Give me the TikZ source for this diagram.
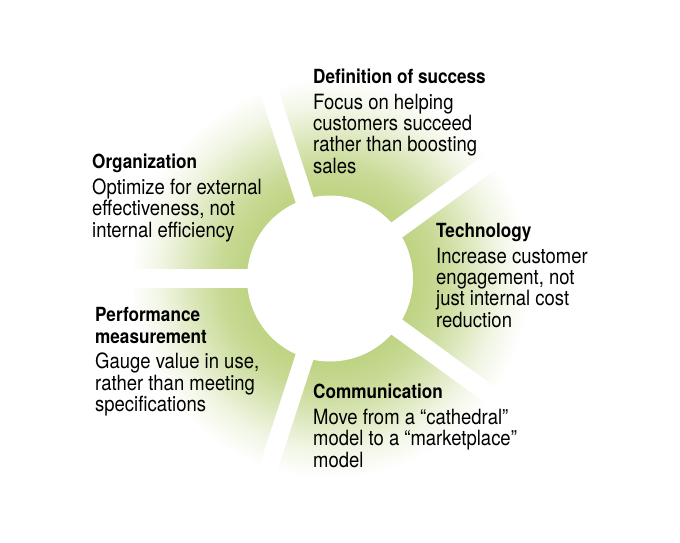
\documentclass[tikz,border=0pt]{standalone}
\usepackage{fontspec}
\setmainfont{TeX Gyre Heros}[FakeStretch=0.88]
\definecolor{wedgegreen}{RGB}{190,211,130}
\pgfdeclareradialshading{wedgefade}{\pgfpoint{0bp}{0bp}}{%
  color(0bp)=(wedgegreen); color(9.4bp)=(wedgegreen); color(12.5bp)=(wedgegreen!85);
  color(15.9bp)=(wedgegreen!55); color(19.3bp)=(wedgegreen!22); color(22.7bp)=(white);
  color(50bp)=(white)}
\newcommand\heading[1]{{\fontsize{19.5}{21.3}\selectfont\bfseries #1}}
\begin{document}
\begin{tikzpicture}[x=1pt,y=-1pt,
    gap/.style={line width=18.5pt,white},
    block/.style={anchor=north west,inner sep=0pt,align=left,
      font=\fontsize{21}{21.3}\selectfont}]
  \useasboundingbox (0,0) rectangle (680,542);
  \coordinate(hub) at (330,278.5);

  % faded ring, cut into five wedges
  \shade[shading=wedgefade] (hub) circle (220pt);
  \foreach \a in {36,108,180,252,324}
    \draw[gap] (hub) -- ++(\a:250pt);
  \fill[white] (hub) circle (83pt);

  \node(def) at (313,68.8) [block] {\heading{Definition of success}\\[4.5pt]Focus on helping\\customers succeed\\rather than boosting\\sales};
  \node(org) at (92,154.1) [block] {\heading{Organization}\\[4.5pt]Optimize for external\\effectiveness, not\\internal efficiency};
  \node(tech) at (436,223) [block] {\heading{Technology}\\[4.5pt]Increase customer\\engagement, not\\just internal cost\\reduction};
  \node(perf) at (95,307.3) [block] {\heading{Performance}\\\heading{measurement}\\[4.5pt]Gauge value in use,\\rather than meeting\\specifications};
  \node(comm) at (313,384.1) [block] {\heading{Communication}\\[4.5pt]Move from a ``cathedral''\\model to a ``marketplace''\\model};
\end{tikzpicture}
\end{document}
